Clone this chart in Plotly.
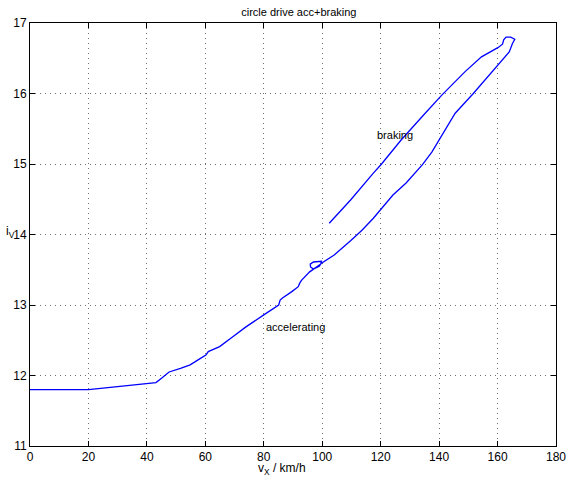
import plotly.graph_objects as go

# accelerating branch then braking branch (one continuous recording)
vx = [0, 10, 20, 25, 30, 35, 40.3, 43.1, 45, 47.6, 51.5, 54.8, 58.2, 60.2, 61.0, 62.7, 64.9,
      69.4, 73.9, 80.0, 85.1, 85.6, 86.4, 89.6, 91.8, 92.3, 92.9, 95.7, 98.0, 99.5,
      99.7, 97.0, 95.9, 96.0, 97.0, 99.0, 99.6, 101.0, 104.1, 109.7, 113.6, 117.5, 120.0,
      124.2, 128.7, 134.3, 137.5, 139.9, 141.0, 145.5, 151.7, 155.6, 161.2, 164.0,
      165.1, 165.9, 164.5, 162.9, 162.1, 161.7, 160.1, 154.5, 148.9, 141.0, 135.0,
      127.0, 120.3, 117.5, 109.7, 106.0, 102.4]
iv = [11.80, 11.80, 11.80, 11.82, 11.84, 11.86, 11.89, 11.90, 11.96, 12.05, 12.10, 12.15, 12.24, 12.29, 12.34, 12.37, 12.41,
      12.55, 12.69, 12.86, 13.00, 13.07, 13.10, 13.19, 13.26, 13.31, 13.35, 13.47, 13.53, 13.58,
      13.62, 13.61, 13.58, 13.54, 13.51, 13.55, 13.59, 13.63, 13.71, 13.91, 14.06, 14.23, 14.35,
      14.56, 14.73, 14.99, 15.17, 15.34, 15.41, 15.72, 16.00, 16.19, 16.45, 16.59,
      16.71, 16.77, 16.80, 16.80, 16.76, 16.70, 16.65, 16.52, 16.31, 15.98, 15.71,
      15.34, 15.00, 14.87, 14.49, 14.32, 14.16]

x_ticks = [0, 20, 40, 60, 80, 100, 120, 140, 160, 180]
y_ticks = [11, 12, 13, 14, 15, 16, 17]

fig = go.Figure()
fig.add_trace(go.Scatter(x=vx, y=iv, mode="lines",
                         line=dict(color="#0000FF", width=1.3), showlegend=False))

axis_common = dict(showline=True, linecolor="black", linewidth=1, mirror="allticks",
                   ticks="inside", ticklen=5, tickcolor="black",
                   showgrid=True, gridcolor="#707070", griddash="1px,4px", gridwidth=1,
                   zeroline=False, tickfont=dict(family="Liberation Sans, Arial", size=12, color="black"))

fig.update_xaxes(range=[0, 180], tickvals=x_ticks, **axis_common)
fig.update_yaxes(range=[11, 17], tickvals=y_ticks, **axis_common)

fig.update_layout(
    width=577, height=480,
    margin=dict(l=30, r=11, t=23, b=34),
    paper_bgcolor="white", plot_bgcolor="white",
    font=dict(family="Liberation Sans, Arial", size=11, color="black"),
    title=dict(text="circle drive acc+braking", x=0.518, xanchor="center", y=0.975, yanchor="middle",
               font=dict(size=11)),
    annotations=[
        dict(x=124.9, y=15.41, text="braking", showarrow=False, font=dict(size=11)),
        dict(x=90.7, y=12.69, text="accelerating", showarrow=False, font=dict(size=11)),
        dict(xref="paper", yref="paper", x=0.48, y=-0.054, xanchor="center", yanchor="middle",
             text="v<sub>X</sub> / km/h", showarrow=False, font=dict(size=12)),
        dict(xref="paper", yref="paper", x=-0.049, y=0.505, xanchor="left", yanchor="middle",
             text="i<sub>V</sub>", showarrow=False, font=dict(size=12)),
    ],
)

fig.write_html("out.html")
